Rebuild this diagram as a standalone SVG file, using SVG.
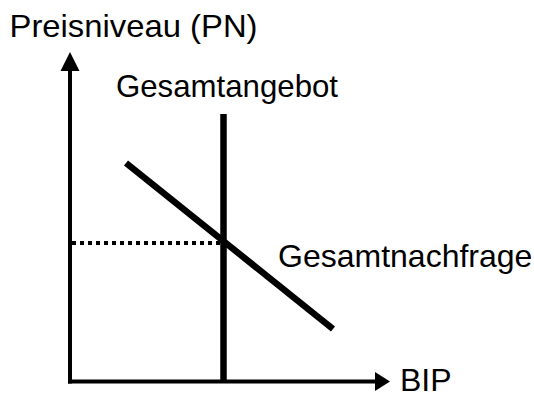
<svg xmlns="http://www.w3.org/2000/svg" width="534" height="398" viewBox="0 0 534 398">
<style>
text{font-family:"Liberation Sans",Arial,sans-serif;font-size:32px;fill:#000}
.ax{stroke:#000;stroke-width:4;fill:none}
.curve{stroke:#000;stroke-width:6.5;fill:none}
.dot{stroke:#000;stroke-width:4;stroke-dasharray:4 4;fill:none}
.head{fill:#000}
</style>
<g id="connectors">
<line id="y-axis" class="ax" x1="70" y1="383.5" x2="70" y2="71"/>
<path class="head" d="M60.5,71 L70,52 L79.5,71 Z"/>
<line id="x-axis" class="ax" x1="68" y1="381.5" x2="375" y2="381.5"/>
<path class="head" d="M375,372 L390,381.5 L375,391 Z"/>
<line id="supply" class="curve" x1="223.5" y1="114" x2="223.5" y2="383"/>
<line id="demand" class="curve" x1="126" y1="163" x2="333" y2="329"/>
<line id="pn-level" class="dot" x1="72" y1="243" x2="222" y2="243"/>
</g>
<g id="label-pn"><text x="9.5" y="37" textLength="248" lengthAdjust="spacingAndGlyphs">Preisniveau (PN)</text></g>
<g id="label-supply"><text x="116" y="97" textLength="222" lengthAdjust="spacingAndGlyphs">Gesamtangebot</text></g>
<g id="label-demand"><text x="278" y="267">Gesamtnachfrage</text></g>
<g id="label-bip"><text x="400" y="391">BIP</text></g>
</svg>
